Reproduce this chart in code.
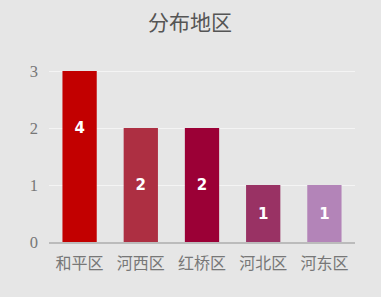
<!DOCTYPE html>
<html>
<head>
<meta charset="utf-8">
<script src="https://cdn.jsdelivr.net/npm/d3@7"></script>
<style>
  html, body { margin: 0; padding: 0; background: #e6e6e6; }
  svg { display: block; }
</style>
</head>
<body>
<div id="chart"></div>
<script>
const districts = ["和平区", "河西区", "红桥区", "河北区", "河东区"];
const counts = [4, 2, 2, 1, 1];
const barColors = ["#c20000", "#ad2f42", "#9b0036", "#993264", "#b384b8"];
const yTicks = [0, 1, 2, 3];

const width = 381;
const height = 297;
const margin = { top: 71, right: 26, bottom: 55, left: 49 };

const svg = d3
  .select("#chart")
  .append("svg")
  .attr("width", width)
  .attr("height", height);

svg
  .append("rect")
  .attr("width", width)
  .attr("height", height)
  .attr("fill", "#e6e6e6");

svg
  .append("text")
  .attr("x", 190)
  .attr("y", 30)
  .attr("text-anchor", "middle")
  .attr("font-family", "Noto Sans CJK SC, sans-serif")
  .attr("font-size", 21)
  .attr("fill", "#555")
  .text("分布地区");

const x = d3
  .scaleBand()
  .domain(districts)
  .range([margin.left, width - margin.right])
  .paddingInner(0.44)
  .paddingOuter(0.22);

const y = d3
  .scaleLinear()
  .domain([0, 3])
  .range([height - margin.bottom, margin.top]);

const yClamped = y.copy().clamp(true);

svg
  .append("g")
  .selectAll("line")
  .data(yTicks.filter((d) => d > 0))
  .join("line")
  .attr("x1", margin.left)
  .attr("x2", width - margin.right)
  .attr("y1", (d) => y(d) + 0.5)
  .attr("y2", (d) => y(d) + 0.5)
  .attr("stroke", "#f4f4f4")
  .attr("stroke-width", 1);

svg
  .append("g")
  .selectAll("text")
  .data(yTicks)
  .join("text")
  .attr("x", 38)
  .attr("y", (d) => y(d))
  .attr("dy", "0.35em")
  .attr("text-anchor", "end")
  .attr("font-family", "Liberation Serif, serif")
  .attr("font-size", 16.5)
  .attr("fill", "#777")
  .text((d) => d);

svg
  .append("g")
  .selectAll("rect")
  .data(counts)
  .join("rect")
  .attr("x", (d, i) => x(districts[i]))
  .attr("width", x.bandwidth())
  .attr("y", (d) => yClamped(d))
  .attr("height", (d) => y(0) - yClamped(d))
  .attr("fill", (d, i) => barColors[i]);

svg
  .append("line")
  .attr("x1", margin.left)
  .attr("x2", width - margin.right)
  .attr("y1", y(0) + 1)
  .attr("y2", y(0) + 1)
  .attr("stroke", "#bbbbbb")
  .attr("stroke-width", 2);

svg
  .append("g")
  .selectAll("text")
  .data(counts)
  .join("text")
  .attr("x", (d, i) => x(districts[i]) + x.bandwidth() / 2)
  .attr("y", (d) => y(d / 2))
  .attr("dy", "0.35em")
  .attr("text-anchor", "middle")
  .attr("font-family", "DejaVu Sans, sans-serif")
  .attr("font-weight", "bold")
  .attr("font-size", 15)
  .attr("fill", "#fff")
  .text((d) => d);

svg
  .append("g")
  .selectAll("text")
  .data(districts)
  .join("text")
  .attr("x", (d) => x(d) + x.bandwidth() / 2)
  .attr("y", 263)
  .attr("dy", "0.35em")
  .attr("text-anchor", "middle")
  .attr("font-family", "Noto Sans CJK SC, sans-serif")
  .attr("font-size", 16)
  .attr("fill", "#777")
  .text((d) => d);
</script>
</body>
</html>
